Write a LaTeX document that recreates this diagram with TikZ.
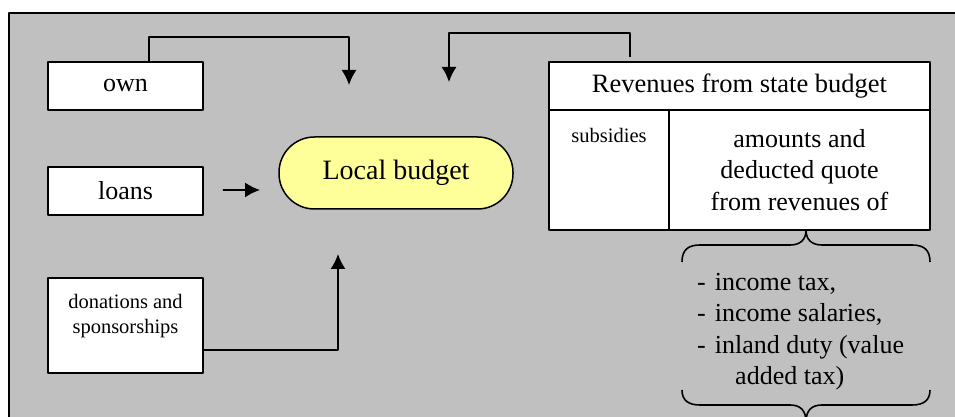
\documentclass[tikz,border=0pt]{standalone}
\usepackage{fontspec}
\setmainfont{Liberation Serif}
\usetikzlibrary{arrows.meta}
\definecolor{panelgray}{HTML}{C0C0C0}
\definecolor{budgetyellow}{HTML}{FFFF99}
\begin{document}
\begin{tikzpicture}[>={Latex[length=15bp,width=15bp]},line join=bevel,
  srcbox/.style={draw,fill=white,line width=1.5bp,inner sep=0pt},
  edge/.style={black,line width=1.6bp},
  bigtext/.style={font=\fontsize{26bp}{31.5bp}\selectfont},
  smalltext/.style={font=\fontsize{20.5bp}{25bp}\selectfont}]
%%
\useasboundingbox (0bp,0bp) rectangle (955bp,417bp);
\clip (0bp,0bp) rectangle (955bp,417bp);
\fill [panelgray] (9bp,-10bp) rectangle (970bp,404bp);
\draw [line width=1.5bp] (9bp,-10bp) -- (9bp,404bp) -- (970bp,404bp);
%
\node (own) at (125.5bp,331bp) [srcbox,bigtext,minimum width=155bp,minimum height=48bp] {own};
  \node (loans) at (125.5bp,226bp) [srcbox,bigtext,minimum width=155bp,minimum height=48bp] {loans};
  \node (don) at (125.5bp,91.5bp) [srcbox,minimum width=155bp,minimum height=95bp] {};
  \node (dontext) at (125.5bp,101bp) [smalltext,align=center] {donations and\\sponsorships};
  \node (local) at (396bp,244bp) [draw,fill=budgetyellow,line width=1.5bp,rounded corners=35.5bp,minimum width=234bp,minimum height=72bp,font=\fontsize{28bp}{32bp}\selectfont] {Local budget};
%
\node (head) at (739.5bp,331bp) [srcbox,font=\fontsize{26.5bp}{31bp}\selectfont,minimum width=381bp,minimum height=48bp] {Revenues from state budget};
  \node (subs) at (609bp,247bp) [srcbox,minimum width=120bp,minimum height=120bp] {};
  \node (substext) at (609bp,282bp) [smalltext] {subsidies};
  \node (amounts) at (799.5bp,247bp) [srcbox,bigtext,align=center,minimum width=261bp,minimum height=120bp] {amounts and\\deducted quote\\from revenues of};
%
\coordinate (ownin) at (349bp,332bp);
  \coordinate (revin) at (449bp,335bp);
  \coordinate (loansin) at (260bp,227bp);
  \coordinate (donin) at (338bp,163bp);
  \draw [edge,->] ([xshift=23.5bp]own.north) -- ++(0bp,24bp) -| (ownin);
  \draw [edge,->] ([xshift=-109.5bp,yshift=4bp]head.north) -- ++(0bp,24bp) -| (revin);
  \draw [edge,->] ([xshift=19bp,yshift=1bp]loans.east) -- (loansin);
  \draw [edge,->] ([yshift=-24.5bp]don.east) -| (donin);
%
\draw [edge] (682bp,155bp) ..controls (682bp,167bp) and (688bp,172bp)  .. (700bp,172bp) -- (790bp,172bp) ..controls (800bp,172bp) and (806bp,177bp)  .. (806bp,187bp);
  \draw [edge] (806bp,187bp) ..controls (806bp,177bp) and (812bp,172bp)  .. (822bp,172bp) -- (912bp,172bp) ..controls (924bp,172bp) and (930bp,167bp)  .. (930bp,155bp);
  \draw [edge] (682bp,27bp) ..controls (682bp,17bp) and (688bp,12bp)  .. (700bp,12bp) -- (790bp,12bp) ..controls (800bp,12bp) and (806bp,7bp)  .. (806bp,-5bp);
  \draw [edge] (806bp,-5bp) ..controls (806bp,7bp) and (812bp,12bp)  .. (822bp,12bp) -- (912bp,12bp) ..controls (924bp,12bp) and (930bp,17bp)  .. (930bp,27bp);
  \node (taxes) at (697bp,144bp) [bigtext,align=left,anchor=north west,inner sep=0pt] {-\hspace{9bp}income tax,\\-\hspace{9bp}income salaries,\\-\hspace{9bp}inland duty (value\\\hspace{38bp}added tax)};
%
\end{tikzpicture}
\end{document}
